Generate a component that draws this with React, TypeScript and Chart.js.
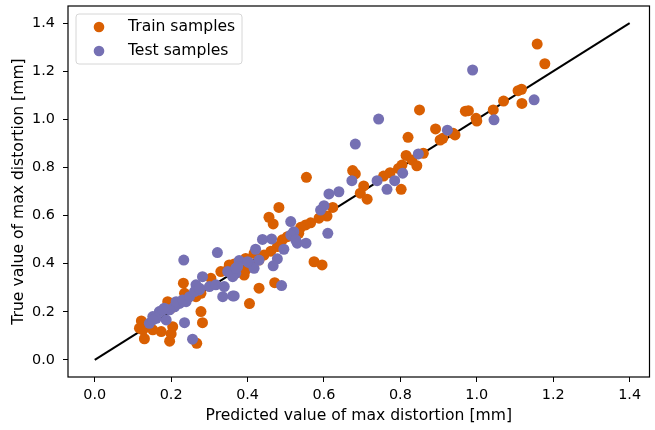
import React, { useEffect, useRef } from "react";
import { Chart, registerables } from "chart.js";

Chart.register(...registerables);

const trainLabel = "Train samples";
const testLabel = "Test samples";
const xTitle = "Predicted value of max distortion [mm]";
const yTitle = "True value of max distortion [mm]";
const tickValues = [0, 0.2, 0.4, 0.6, 0.8, 1.0, 1.2, 1.4];
const identityLine = [
  { x: 0, y: 0 },
  { x: 1.4, y: 1.4 },
];

const trainPoints: [number, number][] = [
  [1.158, 1.313], [1.178, 1.231], [1.117, 1.125], [1.108, 1.119], [1.118, 1.066], [1.070, 1.076],
  [1.043, 1.039], [0.998, 1.004], [1.000, 0.993], [0.978, 1.036], [0.970, 1.034], [0.850, 1.039],
  [0.892, 0.960], [0.943, 0.935], [0.938, 0.942], [0.911, 0.921], [0.904, 0.914], [0.820, 0.925],
  [0.815, 0.850], [0.830, 0.831], [0.843, 0.807], [0.860, 0.859], [0.804, 0.810], [0.795, 0.796],
  [0.773, 0.778], [0.756, 0.764], [0.675, 0.787], [0.682, 0.773], [0.704, 0.723], [0.695, 0.693],
  [0.713, 0.668], [0.802, 0.709], [0.554, 0.759], [0.623, 0.634], [0.608, 0.598], [0.587, 0.589],
  [0.565, 0.570], [0.552, 0.561], [0.539, 0.551], [0.482, 0.634], [0.456, 0.593], [0.467, 0.565],
  [0.534, 0.526], [0.504, 0.512], [0.491, 0.499], [0.478, 0.471], [0.461, 0.452], [0.443, 0.436],
  [0.430, 0.415], [0.413, 0.395], [0.395, 0.374], [0.417, 0.443], [0.395, 0.422], [0.365, 0.399],
  [0.356, 0.381], [0.574, 0.408], [0.595, 0.395], [0.391, 0.353], [0.430, 0.298], [0.471, 0.321],
  [0.405, 0.234], [0.232, 0.319], [0.352, 0.395], [0.330, 0.367], [0.348, 0.374], [0.304, 0.339],
  [0.235, 0.277], [0.248, 0.263], [0.265, 0.263], [0.278, 0.277], [0.191, 0.242], [0.200, 0.215],
  [0.278, 0.201], [0.282, 0.155], [0.122, 0.162], [0.117, 0.132], [0.126, 0.125], [0.130, 0.088],
  [0.204, 0.138], [0.200, 0.108], [0.174, 0.118], [0.152, 0.125], [0.196, 0.078], [0.267, 0.069],
];

const testPoints: [number, number][] = [
  [0.989, 1.205], [1.150, 1.081], [1.045, 0.998], [0.743, 1.001], [0.923, 0.955], [0.682, 0.897],
  [0.847, 0.856], [0.806, 0.776], [0.785, 0.745], [0.739, 0.745], [0.673, 0.745], [0.765, 0.709],
  [0.639, 0.699], [0.613, 0.690], [0.600, 0.641], [0.591, 0.623], [0.513, 0.575], [0.610, 0.526],
  [0.521, 0.533], [0.513, 0.519], [0.526, 0.499], [0.530, 0.485], [0.553, 0.485], [0.495, 0.460],
  [0.463, 0.503], [0.439, 0.501], [0.421, 0.460], [0.478, 0.420], [0.467, 0.391], [0.430, 0.415],
  [0.404, 0.404], [0.378, 0.413], [0.374, 0.388], [0.417, 0.381], [0.400, 0.408], [0.369, 0.360],
  [0.361, 0.346], [0.489, 0.309], [0.365, 0.266], [0.321, 0.446], [0.233, 0.415], [0.282, 0.346],
  [0.348, 0.367], [0.369, 0.381], [0.265, 0.312], [0.274, 0.291], [0.300, 0.305], [0.317, 0.312],
  [0.339, 0.305], [0.335, 0.263], [0.361, 0.266], [0.239, 0.242], [0.222, 0.235], [0.209, 0.221],
  [0.196, 0.208], [0.182, 0.215], [0.169, 0.201], [0.152, 0.180], [0.143, 0.152], [0.161, 0.173],
  [0.187, 0.166], [0.235, 0.155], [0.256, 0.086], [0.213, 0.242], [0.230, 0.249], [0.248, 0.263],
  [0.261, 0.284], [0.274, 0.298], [0.178, 0.208], [0.152, 0.166],
];

const ORANGE = "#d95f02";
const PURPLE = "#7570b3";
const FONT = "'DejaVu Sans', sans-serif";

const framePlugin = {
  id: "frameAndLegend",
  afterDatasetsDraw(chart: any) {
    const { ctx, chartArea } = chart;
    ctx.save();
    ctx.strokeStyle = "#000";
    ctx.lineWidth = 1.2;
    ctx.strokeRect(chartArea.left, chartArea.top, chartArea.right - chartArea.left, chartArea.bottom - chartArea.top);

    // legend box
    const bx = chartArea.left + 8;
    const by = chartArea.top + 8;
    const bw = 166;
    const bh = 50;
    const r = 3;
    ctx.beginPath();
    ctx.moveTo(bx + r, by);
    ctx.lineTo(bx + bw - r, by);
    ctx.quadraticCurveTo(bx + bw, by, bx + bw, by + r);
    ctx.lineTo(bx + bw, by + bh - r);
    ctx.quadraticCurveTo(bx + bw, by + bh, bx + bw - r, by + bh);
    ctx.lineTo(bx + r, by + bh);
    ctx.quadraticCurveTo(bx, by + bh, bx, by + bh - r);
    ctx.lineTo(bx, by + r);
    ctx.quadraticCurveTo(bx, by, bx + r, by);
    ctx.closePath();
    ctx.fillStyle = "rgba(255,255,255,0.8)";
    ctx.fill();
    ctx.strokeStyle = "#d6d6d6";
    ctx.lineWidth = 1;
    ctx.stroke();

    const items = chart.data.datasets.filter((d: any) => d.type === "scatter");
    items.forEach((d: any, i: number) => {
      const cy = by + 13 + i * 24;
      ctx.beginPath();
      ctx.arc(bx + 23, cy, 5.3, 0, Math.PI * 2);
      ctx.fillStyle = d.backgroundColor;
      ctx.fill();
      ctx.fillStyle = "#000";
      ctx.font = `15.6px ${FONT}`;
      ctx.textBaseline = "middle";
      ctx.textAlign = "left";
      ctx.fillText(d.label, bx + 52, cy);
    });
    ctx.restore();
  },
};

export default function App() {
  const ref = useRef<HTMLCanvasElement>(null);
  useEffect(() => {
    if (!ref.current) return;
    const tickFont = { family: FONT, size: 14.4 };
    const titleFont = { family: FONT, size: 15.6 };
    const chart = new Chart(ref.current, {
      type: "scatter",
      data: {
        datasets: [
          {
            type: "line",
            label: "identity",
            data: identityLine,
            borderColor: "#000",
            borderWidth: 2,
            pointRadius: 0,
            fill: false,
            order: 3,
          } as any,
          {
            type: "scatter",
            label: trainLabel,
            data: trainPoints.map(([x, y]) => ({ x, y })),
            backgroundColor: ORANGE,
            borderColor: ORANGE,
            borderWidth: 0,
            pointRadius: 5.5,
            order: 2,
          },
          {
            type: "scatter",
            label: testLabel,
            data: testPoints.map(([x, y]) => ({ x, y })),
            backgroundColor: PURPLE,
            borderColor: PURPLE,
            borderWidth: 0,
            pointRadius: 5.5,
            order: 1,
          },
        ],
      },
      options: {
        animation: false,
        responsive: false,
        maintainAspectRatio: false,
        devicePixelRatio: 1,
        layout: { padding: { top: 6, right: 3, left: 0, bottom: 0 } },
        plugins: { legend: { display: false }, tooltip: { enabled: false } },
        scales: {
          x: {
            type: "linear",
            min: -0.07,
            max: 1.452,
            border: { display: false },
            grid: { drawOnChartArea: false, drawTicks: true, tickLength: 5, color: "#000", lineWidth: 1 },
            ticks: {
              font: tickFont,
              color: "#000",
              padding: 5,
              maxRotation: 0,
              callback: (v: any) => Number(v).toFixed(1),
            },
            afterBuildTicks: (s: any) => {
              s.ticks = tickValues.map((value) => ({ value }));
            },
            afterFit: (s: any) => {
              s.height = 53;
              s.paddingLeft = 0;
              s.paddingRight = 0;
            },
            title: { display: true, text: xTitle, font: titleFont, color: "#000", padding: { top: 0, bottom: 5 } },
          },
          y: {
            type: "linear",
            min: -0.071,
            max: 1.471,
            border: { display: false },
            grid: { drawOnChartArea: false, drawTicks: true, tickLength: 5, color: "#000", lineWidth: 1 },
            ticks: {
              font: tickFont,
              color: "#000",
              padding: 8,
              callback: (v: any) => Number(v).toFixed(1),
            },
            afterBuildTicks: (s: any) => {
              s.ticks = tickValues.map((value) => ({ value }));
            },
            afterFit: (s: any) => {
              s.width = 68;
              s.paddingTop = 0;
              s.paddingBottom = 0;
            },
            title: { display: true, text: yTitle, font: titleFont, color: "#000", padding: { top: 10, bottom: 0 } },
          },
        },
      },
      plugins: [framePlugin],
    });
    return () => chart.destroy();
  }, []);
  return (
    <div style={{ position: "fixed", left: 0, top: 0, width: 655, height: 430, background: "#fff" }}>
      <canvas ref={ref} width={655} height={430} style={{ width: 655, height: 430, display: "block" }} />
    </div>
  );
}
